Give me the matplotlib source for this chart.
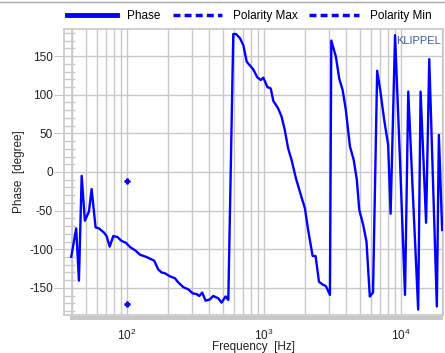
import matplotlib.pyplot as plt
import numpy as np
from matplotlib.lines import Line2D
from matplotlib.patches import Rectangle
from matplotlib.ticker import MultipleLocator, LogLocator, NullFormatter

plt.rcParams['font.family'] = ['Liberation Sans', 'DejaVu Sans']
plt.rcParams['axes.unicode_minus'] = False

# phase curve (Hz, degree)
freq = [39.2, 42.6, 44.6, 46.7, 49.3, 52.8, 55.2, 59, 62.5, 68, 71, 74.8, 79.4,
        85, 91, 98, 106, 115.7, 124.4, 139, 158, 169, 179, 189, 206, 224, 237,
        258, 280, 302, 322, 337, 354, 375, 404, 426, 464, 490, 525, 549,
        597, 625, 668, 707, 748, 833, 894, 947, 990, 1058, 1120, 1170, 1267,
        1345, 1420, 1500, 1590, 1710, 1860, 1990, 2100, 2265, 2380, 2520, 2700,
        2830, 3030, 3100, 3350, 3540, 3750, 3960, 4240, 4520, 4760, 4960, 5300,
        5600, 5920, 6250, 6700, 7080, 7510, 8060, 8400, 9050, 9800, 10700,
        11300, 12200, 13350, 13900, 15250, 16080, 18270, 18900, 19970]
phase = [-109.6, -72.9, -140.6, -5, -63, -51, -22, -71.6, -73, -78.5, -83,
         -96.6, -83, -84, -89, -91.5, -97.5, -101.8, -107, -110, -114.7, -126,
         -130, -131, -135, -137.5, -143, -149, -151.8, -157, -158, -160.4,
         -156, -166.5, -164.7, -160.4, -163.4, -169, -161, -165.6,
         178.5, 178.5, 173, 164, 142.7, 133, 122.5, 119, 122, 110, 108, 92,
         82.4, 71.5, 54, 30.7, 15.5, -8, -30, -47, -75, -108.7, -108.7, -142,
         -146, -147.5, -159, 170, 149, 121, 106, 80, 33, 15.5, -10, -49, -68.6,
         -90, -161, -156, 131, 104, 69.5, 35, -54, 177, 22, -159, 104, -27,
         -178, 104, -65.6, 146, -174, 48, -75]

# polarity markers
pol_freq = [100, 100]
pol_phase = [-11, -171]

y_ticks = [-150, -100, -50, 0, 50, 100, 150]

fig = plt.figure(figsize=(4.45, 3.53), dpi=100)
ax = fig.add_axes([64 / 445, 38 / 353, 379 / 445, 286 / 353])

grid_col = '#c8c8c8'
ax.plot(freq, phase, color='#0000ff', lw=1.7, zorder=3)
ax.plot(pol_freq, pol_phase, ls='none', marker='P', ms=3.5, color='#0000ff', zorder=3)

ax.set_xscale('log')
ax.set_xlim(34.7, 20260)
ax.set_ylim(-185, 185)
ax.set_yticks(y_ticks)
ax.yaxis.set_minor_locator(MultipleLocator(10))
ax.xaxis.set_minor_locator(LogLocator(base=10, subs=np.arange(2, 10)))
ax.xaxis.set_minor_formatter(NullFormatter())

ax.grid(True, which='major', color=grid_col, lw=1.0)
ax.grid(True, which='minor', axis='x', color=grid_col, lw=1.0)
ax.set_axisbelow(True)

for s in ax.spines.values():
    s.set_color(grid_col)
    s.set_linewidth(1.2)

ax.tick_params(axis='y', which='major', direction='out', length=7, color=grid_col,
               labelsize=8.5, pad=1, labelcolor='#222222')
ax.tick_params(axis='y', which='minor', direction='in', length=8, color=grid_col, width=1)
ax.tick_params(axis='x', which='both', length=0, labelsize=8.5, pad=9, labelcolor='#222222')

# strip along the left edge
ax.add_line(Line2D([8 / 379, 8 / 379], [0, 1], transform=ax.transAxes,
                   color=grid_col, lw=1.2, zorder=2))
# bar below the plot
fig.add_artist(Rectangle((70 / 445, 33 / 353), 373 / 445, 4 / 353,
                         transform=fig.transFigure, color=grid_col, lw=0))
# line along the top of the figure
fig.add_artist(Line2D([0, 1], [351.5 / 353, 351.5 / 353], transform=fig.transFigure,
                      color='#aaaaaa', lw=1))

ax.set_xlabel('Frequency  [Hz]', fontsize=8.5, labelpad=-1, color='#222222')
ax.set_ylabel('Phase  [degree]', fontsize=8.5, labelpad=3, color='#222222')

ax.text(0.995, 0.975, 'KLIPPEL', transform=ax.transAxes, ha='right', va='top',
        fontsize=8, color='#3a5aa8')

handles = [Line2D([], [], color='#0000ff', lw=3.5),
           Line2D([], [], color='#0000ff', lw=2.5, ls=(0, (2, 1.2))),
           Line2D([], [], color='#0000ff', lw=2.5, ls=(0, (2, 1.2)))]
fig.legend(handles, ['Phase', 'Polarity Max', 'Polarity Min'], loc='center',
           bbox_to_anchor=(0.56, 1 - 16 / 353), ncol=3, frameon=False,
           fontsize=8.5, handlelength=4.2, columnspacing=1.0, handletextpad=0.9)

fig.savefig('out.png', dpi=100)
